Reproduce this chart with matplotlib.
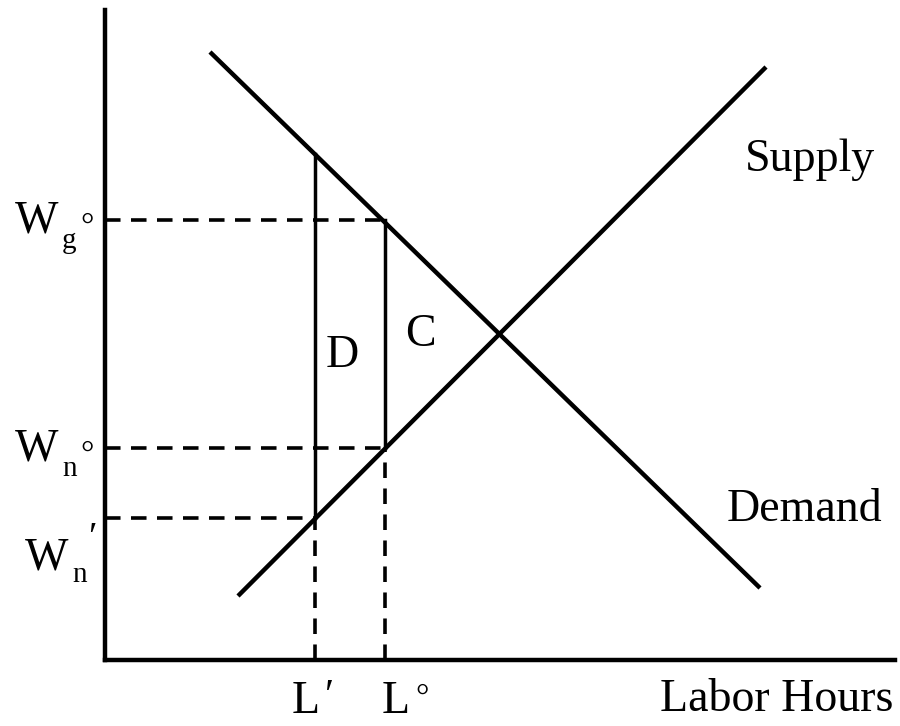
import matplotlib
matplotlib.use("Agg")
import matplotlib.pyplot as plt

# chart units: labor hours on x, wage on y
demand_L = [105, 655]
demand_W = [608, 72]
supply_L = [133, 661]
supply_W = [64, 593]

L_prime = 210      # L'
L_star = 280       # L°
W_g = 440          # gross wage
W_n = 212          # net wage
W_n_prime = 142    # net wage at L'
W_d_prime = 506    # demand wage at L'

plt.rcParams['font.family'] = ['Liberation Serif', 'DejaVu Serif']

fig = plt.figure(figsize=(9, 7.26), dpi=100)
ax = fig.add_axes([105/900, 66/726, 790/900, 650/726])
ax.set_xlim(0, 790)
ax.set_ylim(0, 650)
for s in ['top', 'right']:
    ax.spines[s].set_visible(False)
for s in ['left', 'bottom']:
    ax.spines[s].set_linewidth(3.2)
ax.set_xticks([])
ax.set_yticks([])

ax.plot(demand_L, demand_W, color='black', lw=3.2, solid_capstyle='butt')
ax.plot(supply_L, supply_W, color='black', lw=3.2, solid_capstyle='butt')

ax.plot([L_prime, L_prime], [W_n_prime, W_d_prime], color='black', lw=2.5)
ax.plot([L_star, L_star], [W_n, W_g], color='black', lw=2.5)

dash = dict(color='black', lw=2.6, dashes=(4.3, 2.9))
ax.plot([0, L_star], [W_g, W_g], **dash)
ax.plot([0, L_star], [W_n, W_n], **dash)
ax.plot([0, L_prime], [W_n_prime, W_n_prime], **dash)
ax.plot([L_prime, L_prime], [0, W_n_prime], **dash)
ax.plot([L_star, L_star], [0, W_n], **dash)

fs = 33
tk = dict(fontsize=fs, color='black', clip_on=False)
small = dict(color='black', clip_on=False)

ax.text(640, 500, "Supply", ha='left', va='center', **tk)
ax.text(622, 150, "Demand", ha='left', va='center', **tk)
ax.text(788, -40, "Labor Hours", ha='right', va='center', **tk)
ax.text(237, 304, "D", ha='center', va='center', **tk)
ax.text(315, 325, "C", ha='center', va='center', **tk)

# x-axis labels
ax.text(L_prime - 23, -53, "L", ha='left', va='baseline', **tk)
ax.text(L_prime + 10, -38, "\u2032", ha='left', va='center', fontsize=30, **small)
ax.text(L_star - 3, -53, "L", ha='left', va='baseline', **tk)
ax.text(L_star + 30, -38, "\u00b0", ha='left', va='center', fontsize=24, **small)

# y-axis labels
def wlabel(y, sub, mark):
    ax.text(-90, y - 13, "W", ha='left', va='baseline', **tk)
    ax.text(-43, y - 28, sub, ha='left', va='baseline', fontsize=21, **small)
    ax.text(-25, y - 8, mark, ha='left', va='center', fontsize=24, **small)

wlabel(W_g, "g", "\u00b0")
wlabel(W_n, "n", "\u00b0")
ax.text(-80, W_n_prime - 51, "W", ha='left', va='baseline', **tk)
ax.text(-33, W_n_prime - 64, "n", ha='left', va='baseline', fontsize=21, **small)
ax.text(-17, W_n_prime - 22, "\u2032", ha='left', va='center', fontsize=28, **small)

fig.savefig("out.png", dpi=100)
